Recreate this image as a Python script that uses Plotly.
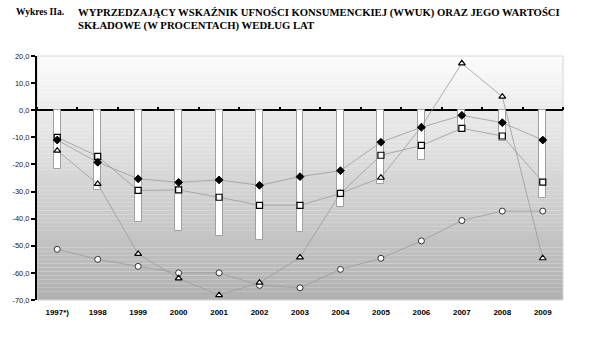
import plotly.graph_objects as go

years = ["1997*)", "1998", "1999", "2000", "2001", "2002", "2003", "2004", "2005", "2006", "2007", "2008", "2009"]
wwuk_bars = [-21.8, -29.4, -41.4, -44.7, -46.4, -47.9, -44.8, -35.6, -27.2, -18.5, -7.9, -11.4, -32.5]
series_diamond = [-11.0, -19.2, -25.3, -26.6, -25.7, -27.7, -24.5, -22.3, -11.8, -6.3, -1.9, -4.6, -11.0]
series_square = [-10.0, -17.0, -29.6, -29.4, -32.1, -35.1, -35.1, -30.7, -16.6, -13.0, -6.7, -9.5, -26.5]
series_triangle = [-14.9, -27.2, -53.0, -62.0, -68.2, -63.6, -54.3, -30.6, -24.9, -6.1, 17.3, 5.0, -54.6]
series_circle = [-51.3, -55.0, -57.6, -60.0, -60.0, -64.6, -65.5, -58.7, -54.6, -48.2, -40.7, -37.2, -37.2]
y_ticks = [20, 10, 0, -10, -20, -30, -40, -50, -60, -70]
y_tick_text = ["20,0", "10,0", "0,0", "-10,0", "-20,0", "-30,0", "-40,0", "-50,0", "-60,0", "-70,0"]

fig = go.Figure()

# gradient background via stacked rectangles
n = 60
shapes = []
top_c, bot_c = 252, 176
for i in range(n):
    f0 = i / n
    f1 = (i + 1) / n
    t = 1 - (f0 + f1) / 2  # 0 at top, 1 at bottom
    c = int(round(top_c + (bot_c - top_c) * t))
    shapes.append(dict(type="rect", xref="x domain", yref="y domain", x0=0, x1=1, y0=f0, y1=f1,
                       fillcolor=f"rgb({c},{c},{c})", line=dict(width=0), layer="below"))
shapes.append(dict(type="rect", xref="x domain", yref="y domain", x0=0, x1=1, y0=0, y1=1,
                   fillcolor="rgba(0,0,0,0)", line=dict(color="#d4d4d4", width=1), layer="below"))

fig.add_trace(go.Bar(x=years, y=wwuk_bars, width=0.17, marker=dict(color="white", line=dict(color="#a0a0a0", width=1)),
                     hoverinfo="skip"))

line_style = dict(color="#9a9a9a", width=0.8)
fig.add_trace(go.Scatter(x=years, y=series_circle, mode="lines+markers", line=line_style,
                         marker=dict(symbol="circle", size=6, color="white", line=dict(color="#333333", width=1))))
fig.add_trace(go.Scatter(x=years, y=series_triangle, mode="lines+markers", line=line_style,
                         marker=dict(symbol="triangle-up", size=6, color="white", line=dict(color="black", width=1.2))))
fig.add_trace(go.Scatter(x=years, y=series_square, mode="lines+markers", line=line_style,
                         marker=dict(symbol="square", size=6, color="white", line=dict(color="black", width=1.2))))
fig.add_trace(go.Scatter(x=years, y=series_diamond, mode="lines+markers", line=line_style,
                         marker=dict(symbol="diamond", size=6, color="black", line=dict(color="black", width=1))))

# invisible trace for zero-line tick axis
fig.add_trace(go.Scatter(x=years, y=[0] * len(years), xaxis="x2", mode="lines",
                         line=dict(width=0, color="rgba(0,0,0,0)"), hoverinfo="skip"))

fig.update_layout(
    width=600, height=339,
    margin=dict(l=33, r=37, t=56, b=39),
    paper_bgcolor="white",
    plot_bgcolor="rgba(0,0,0,0)",
    showlegend=False,
    bargap=0,
    shapes=shapes,
    xaxis=dict(type="category", categoryorder="array", categoryarray=years, range=[-0.5, 12.5],
               showline=False, ticks="", showgrid=False, zeroline=False,
               tickfont=dict(family="Liberation Sans, Arial", size=8, color="black", weight="bold"),
               ticklabelstandoff=6),
    xaxis2=dict(type="category", categoryorder="array", categoryarray=years, range=[-0.5, 12.5],
                overlaying="x", anchor="free", position=70 / 90, side="top",
                showline=False, ticks="outside", ticklen=3, tickwidth=2, tickcolor="black",
                tickson="boundaries", showticklabels=False, showgrid=False, zeroline=False),
    yaxis=dict(range=[-70, 20], tickvals=y_ticks, ticktext=y_tick_text, showgrid=False,
               zeroline=True, zerolinecolor="black", zerolinewidth=2,
               showline=True, linecolor="black", linewidth=2, ticks="outside", ticklen=4, tickwidth=2,
               tickcolor="black", tickfont=dict(family="Liberation Sans, Arial", size=7.5, color="#222")),
)

title_lines = [("Wykres IIa.", 10, 12, 9.5),
               ("WYPRZEDZAJĄCY WSKAŹNIK UFNOŚCI KONSUMENCKIEJ (WWUK) ORAZ JEGO WARTOŚCI", 72, 12, 10.7),
               ("SKŁADOWE (W PROCENTACH) WEDŁUG LAT", 72, 26, 10.7)]
for txt, px, py, fs in title_lines:
    fig.add_annotation(x=(px - 33) / 530, y=1 + (56 - py) / 244, xref="paper", yref="paper",
                       xanchor="left", yanchor="middle", text=txt, showarrow=False,
                       font=dict(family="Liberation Serif, Times New Roman", size=fs, color="black", weight="bold"))

fig.write_html("out.html")
